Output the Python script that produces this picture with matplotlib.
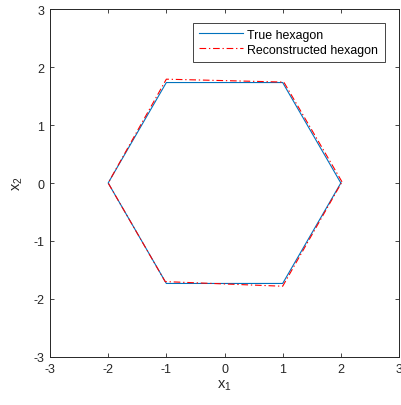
import numpy as np
import matplotlib
matplotlib.use("Agg")
import matplotlib.pyplot as plt

plt.rcParams['font.family'] = ['Liberation Sans', 'DejaVu Sans']
plt.rcParams['mathtext.fontset'] = 'custom'
plt.rcParams['mathtext.rm'] = 'Liberation Sans'
plt.rcParams['mathtext.it'] = 'Liberation Sans'
plt.rcParams['axes.unicode_minus'] = False

# True hexagon vertices
true_x = [2.0, 1.0, -1.0, -2.0, -1.0, 1.0, 2.0]
true_y = [0.0, 1.732, 1.732, 0.0, -1.732, -1.732, 0.0]
# Reconstructed hexagon vertices
rec_x = [2.02, 1.02, -1.0, -2.0, -1.02, 1.0, 2.02]
rec_y = [0.02, 1.74, 1.79, 0.0, -1.70, -1.78, 0.02]

ticks = [-3, -2, -1, 0, 1, 2, 3]
gray = (0.15, 0.15, 0.15)

fig = plt.figure(figsize=(4.01, 4.06), dpi=100)
ax = fig.add_axes([50/401, 1-358/406, 349/401, 348/406])
ax.plot(true_x, true_y, color=(0, 0.447, 0.741), lw=0.8, label='True hexagon')
ax.plot(rec_x, rec_y, color='red', lw=0.8, ls=(0, (6, 2.5, 1.2, 2.5)), label='Reconstructed hexagon')
ax.set_xlim(-3, 3)
ax.set_ylim(-3, 3)
ax.set_xticks(ticks)
ax.set_yticks(ticks)
ax.tick_params(direction='in', top=True, right=True, labelsize=9, colors=gray, length=3, width=0.6, pad=4)
for s in ax.spines.values():
    s.set_color(gray)
    s.set_linewidth(0.7)
ax.set_xlabel('x$_1$', fontsize=10.5, color=gray, labelpad=2)
ax.set_ylabel('x$_2$', fontsize=10.5, color=gray, labelpad=6)
leg = ax.legend(loc='upper right', fontsize=8.9, frameon=True, fancybox=False,
                edgecolor=gray, framealpha=1, borderpad=0.5,
                handlelength=3.5, handletextpad=0.4, labelspacing=0.25,
                borderaxespad=0)
leg.get_frame().set_linewidth(0.6)
leg.set_bbox_to_anchor(((384.5-50)/349, (358-23.5)/348), transform=ax.transAxes)
fig.savefig('out.png', dpi=100)
